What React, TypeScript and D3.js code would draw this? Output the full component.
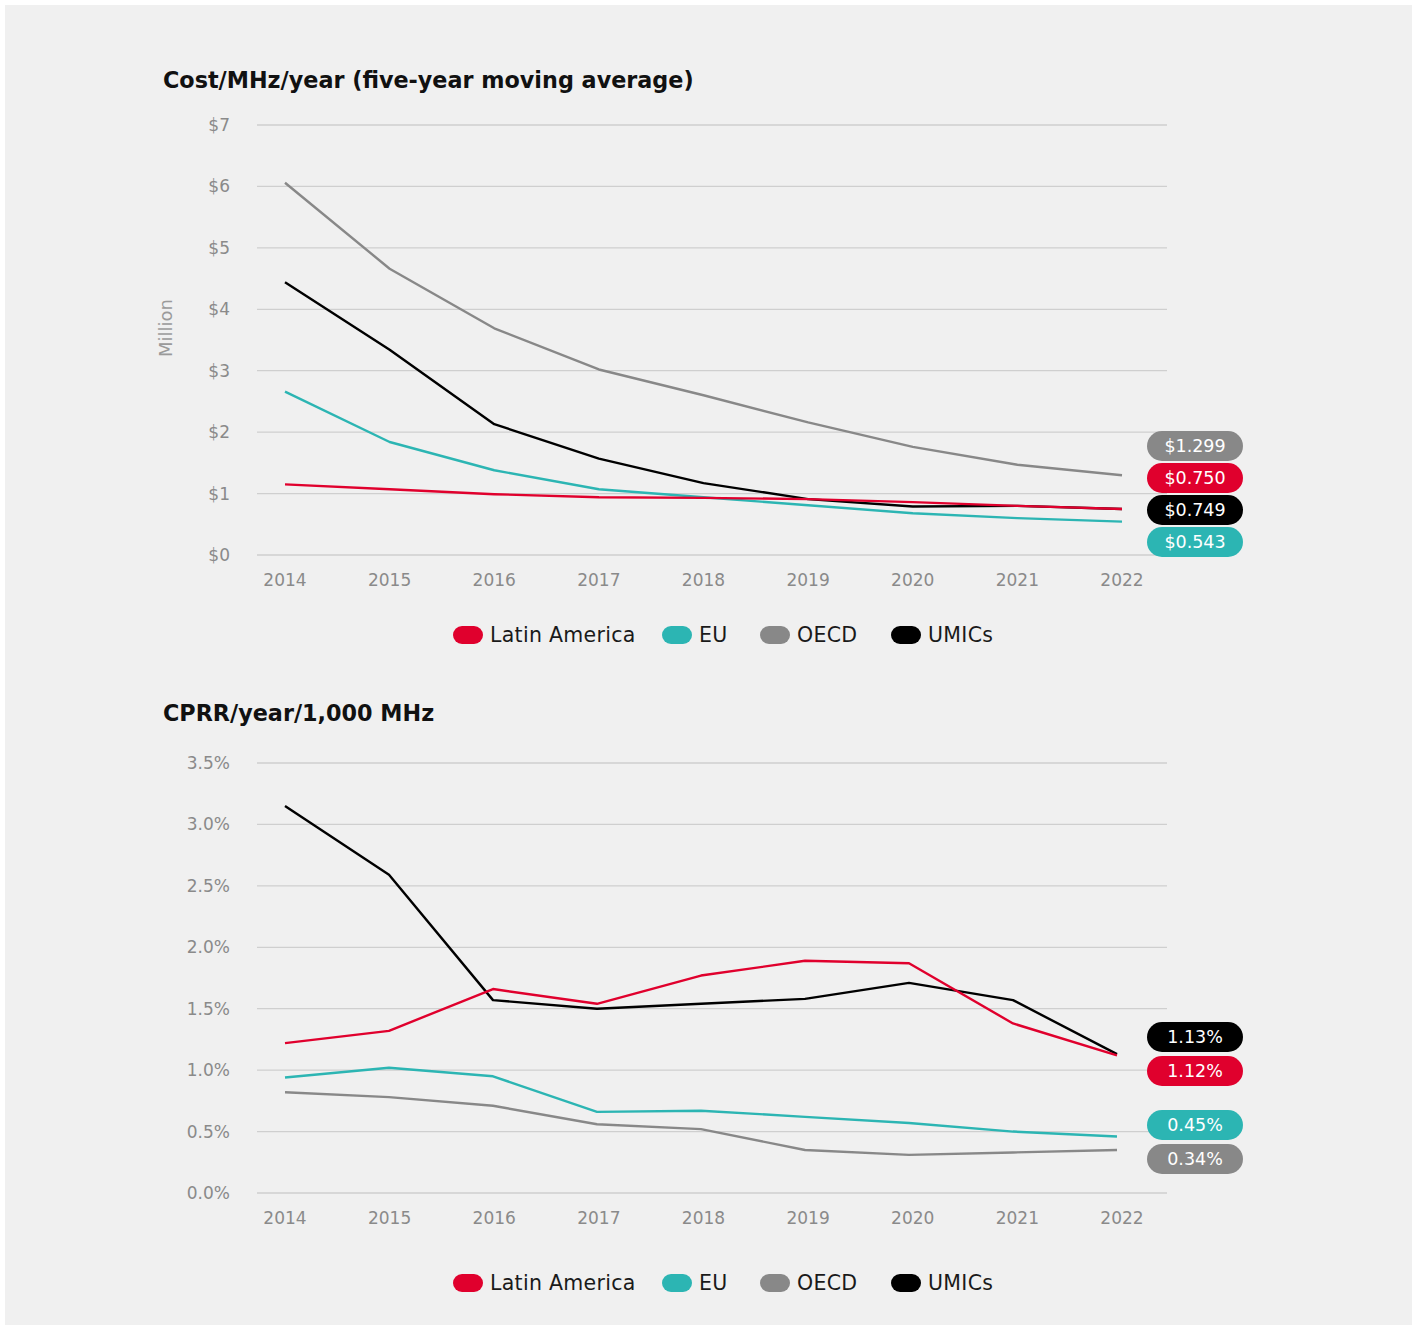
import React from "react";
import * as d3 from "d3";

const years = [2014, 2015, 2016, 2017, 2018, 2019, 2020, 2021, 2022];

// Chart 1: Cost/MHz/year (five-year moving average), $ million
const costLatAm = [1.15, 1.07, 0.99, 0.94, 0.93, 0.91, 0.86, 0.8, 0.75];
const costEU = [2.66, 1.84, 1.38, 1.07, 0.94, 0.81, 0.68, 0.6, 0.543];
const costOECD = [6.06, 4.66, 3.69, 3.02, 2.6, 2.16, 1.76, 1.47, 1.299];
const costUMICs = [4.44, 3.34, 2.13, 1.57, 1.17, 0.91, 0.79, 0.8, 0.749];
const costTicks = [0, 1, 2, 3, 4, 5, 6, 7];
const costEndLabels = ["$1.299", "$0.750", "$0.749", "$0.543"];
const costEndOrder = ["OECD", "Latin America", "UMICs", "EU"];

// Chart 2: CPRR/year/1,000 MHz, %
const cprrLatAm = [1.22, 1.32, 1.66, 1.54, 1.77, 1.89, 1.87, 1.38, 1.12];
const cprrEU = [0.94, 1.02, 0.95, 0.66, 0.67, 0.62, 0.57, 0.5, 0.46];
const cprrOECD = [0.82, 0.78, 0.71, 0.56, 0.52, 0.35, 0.31, 0.33, 0.35];
const cprrUMICs = [3.15, 2.59, 1.57, 1.5, 1.54, 1.58, 1.71, 1.57, 1.13];
const cprrTicks = [0, 0.5, 1, 1.5, 2, 2.5, 3, 3.5];
const cprrEndLabels = ["1.13%", "1.12%", "0.45%", "0.34%"];
const cprrEndOrder = ["UMICs", "Latin America", "EU", "OECD"];

const colors: Record<string, string> = {
  "Latin America": "#e0002d",
  EU: "#2cb5b3",
  OECD: "#888888",
  UMICs: "#000000",
};

const FONT = "'DejaVu Sans', sans-serif";

type ChartProps = {
  top: number;
  title: string;
  titleDy: number;
  legendDy: number;
  data: Record<string, number[]>;
  ticks: number[];
  tickFmt: (v: number) => string;
  yMax: number;
  xRange: [number, number];
  endLabels: string[];
  endOrder: string[];
  labelOffsets: number[];
  yLabel?: string;
  drawOrder: string[];
};

function Chart(p: ChartProps) {
  const y0 = p.top + 492; // baseline for 0
  const y1 = p.top + 62; // top
  const x = d3.scaleLinear().domain([2014, 2022]).range(p.xRange);
  const xTick = d3.scaleLinear().domain([2014, 2022]).range([285, 1122]);
  const y = d3.scaleLinear().domain([0, p.yMax]).range([y0, y1]);
  const line = d3
    .line<number>()
    .x((_, i) => x(years[i]))
    .y((v) => y(v));
  const legendY = p.top + 572 + p.legendDy;
  const legendItems = [
    { name: "Latin America", x: 453 },
    { name: "EU", x: 662 },
    { name: "OECD", x: 760 },
    { name: "UMICs", x: 891 },
  ];
  return (
    <g>
      <text
        x={163}
        y={p.top + 25 + p.titleDy}
        fontFamily={FONT}
        fontWeight={700}
        fontSize={22.3}
        fill="#111"
      >
        {p.title}
      </text>
      {p.ticks.map((t) => (
        <g key={t}>
          <line x1={257} x2={1167} y1={y(t)} y2={y(t)} stroke="#cfcfcf" strokeWidth={1.3} />
          <text x={230} y={y(t)} dy="0.35em" textAnchor="end" fontFamily={FONT} fontSize={17} fill="#8a8a8a">
            {p.tickFmt(t)}
          </text>
        </g>
      ))}
      {p.yLabel && (
        <text
          transform={`translate(172,${p.top + 265}) rotate(-90)`}
          textAnchor="middle"
          fontFamily={FONT}
          fontSize={18}
          fill="#9a9a9a"
        >
          {p.yLabel}
        </text>
      )}
      {years.map((yr) => (
        <text key={yr} x={xTick(yr)} y={y0 + 25} dy="0.35em" textAnchor="middle" fontFamily={FONT} fontSize={17} fill="#8a8a8a">
          {yr}
        </text>
      ))}
      {p.drawOrder.map((name) => (
        <path key={name} d={line(p.data[name]) || ""} fill="none" stroke={colors[name]} strokeWidth={2.4} strokeLinejoin="round" />
      ))}
      {p.endOrder.map((name, i) => {
        const cy = p.top + p.labelOffsets[i];
        return (
          <g key={name}>
            <rect x={1147} y={cy - 15} width={96} height={30} rx={15} fill={colors[name]} />
            <text x={1195} y={cy} dy="0.36em" textAnchor="middle" fontFamily={FONT} fontSize={17.5} fill="#fff">
              {p.endLabels[i]}
            </text>
          </g>
        );
      })}
      {legendItems.map((it) => (
        <g key={it.name}>
          <rect x={it.x} y={legendY - 9} width={30} height={18} rx={9} fill={colors[it.name]} />
          <text x={it.x + 37} y={legendY} dy="0.35em" fontFamily={FONT} fontSize={20.5} letterSpacing={0.3} fill="#1a1a1a">
            {it.name}
          </text>
        </g>
      ))}
    </g>
  );
}

export default function App() {
  const costData: Record<string, number[]> = {
    "Latin America": costLatAm,
    EU: costEU,
    OECD: costOECD,
    UMICs: costUMICs,
  };
  const cprrData: Record<string, number[]> = {
    "Latin America": cprrLatAm,
    EU: cprrEU,
    OECD: cprrOECD,
    UMICs: cprrUMICs,
  };
  return (
    <svg
      width={1417}
      height={1325}
      style={{ position: "absolute", left: 0, top: 0, background: "#fff" }}
    >
      <rect x={5} y={5} width={1407} height={1320} fill="#f0f0f0" />
      <Chart
        top={63}
        title="Cost/MHz/year (five-year moving average)"
        titleDy={0}
        legendDy={0}
        data={costData}
        ticks={costTicks}
        tickFmt={(v) => `$${v}`}
        yMax={7}
        xRange={[285, 1122]}
        endLabels={costEndLabels}
        endOrder={costEndOrder}
        labelOffsets={[383, 415, 447, 479]}
        yLabel="Million"
        drawOrder={["OECD", "EU", "UMICs", "Latin America"]}
      />
      <Chart
        top={701}
        title="CPRR/year/1,000 MHz"
        titleDy={-5}
        legendDy={10}
        data={cprrData}
        ticks={cprrTicks}
        tickFmt={(v) => `${v.toFixed(1)}%`}
        yMax={3.5}
        xRange={[285, 1117]}
        endLabels={cprrEndLabels}
        endOrder={cprrEndOrder}
        labelOffsets={[336, 370, 424, 458]}
        drawOrder={["OECD", "EU", "UMICs", "Latin America"]}
      />
    </svg>
  );
}
